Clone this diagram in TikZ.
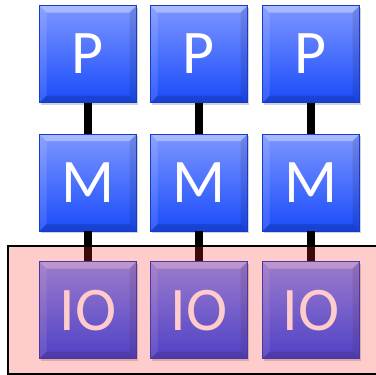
\documentclass[tikz,border=0pt]{standalone}
\usepackage{fontspec}
\setmainfont{Carlito}
\usetikzlibrary{positioning,shadows}
\definecolor{boxtop}{RGB}{125,150,255}
\definecolor{boxbot}{RGB}{25,75,250}
\definecolor{iotint}{RGB}{255,40,40}
\tikzset{
  bevel/.style={path picture={
    \fill[white, fill opacity=0.35] (path picture bounding box.north west) -- (path picture bounding box.north east)
      -- ([xshift=-7pt,yshift=-7pt]path picture bounding box.north east) -- ([xshift=7pt,yshift=-7pt]path picture bounding box.north west) -- cycle;
    \fill[white, fill opacity=0.12] (path picture bounding box.north west) -- ([xshift=7pt,yshift=-7pt]path picture bounding box.north west)
      -- ([xshift=7pt,yshift=7pt]path picture bounding box.south west) -- (path picture bounding box.south west) -- cycle;
    \fill[black, fill opacity=0.10] (path picture bounding box.north east) -- ([xshift=-7pt,yshift=-7pt]path picture bounding box.north east)
      -- ([xshift=-7pt,yshift=7pt]path picture bounding box.south east) -- (path picture bounding box.south east) -- cycle;
    \fill[black, fill opacity=0.15] (path picture bounding box.south west) -- ([xshift=7pt,yshift=7pt]path picture bounding box.south west)
      -- ([xshift=-7pt,yshift=7pt]path picture bounding box.south east) -- (path picture bounding box.south east) -- cycle;
  }},
  unit/.style={rectangle, minimum width=97pt, minimum height=97pt, inner sep=0pt,
    top color=boxtop, bottom color=boxbot, draw=boxbot!80!black, line width=0.6pt, bevel,
    drop shadow={shadow xshift=1.5pt, shadow yshift=-2pt, opacity=0.35},
    text=white, font=\fontsize{62}{62}\selectfont},
  bus/.style={line width=8pt, black},
  ioregion/.style={draw=black, line width=2pt, fill=iotint, fill opacity=0.24}
}

\begin{document}
\begin{tikzpicture}[x=1pt,y=-1pt]
  \useasboundingbox (0,0) rectangle (376,375);

  % one column per processor: P over M over IO
  \foreach \i/\x in {1/88,2/199,3/311}{
    \node[unit] (p\i) at (\x,54) {P};
    \node[unit, below=31pt of p\i] (m\i) {M};
    \node[unit, below=30pt of m\i] (io\i) {IO};
    \draw[bus] (p\i.south) -- (m\i.north);
    \draw[bus] (m\i.south) -- (io\i.north);
  }

  % tinted IO band
  \draw[ioregion] (8,246) rectangle (380,374);
\end{tikzpicture}
\end{document}
